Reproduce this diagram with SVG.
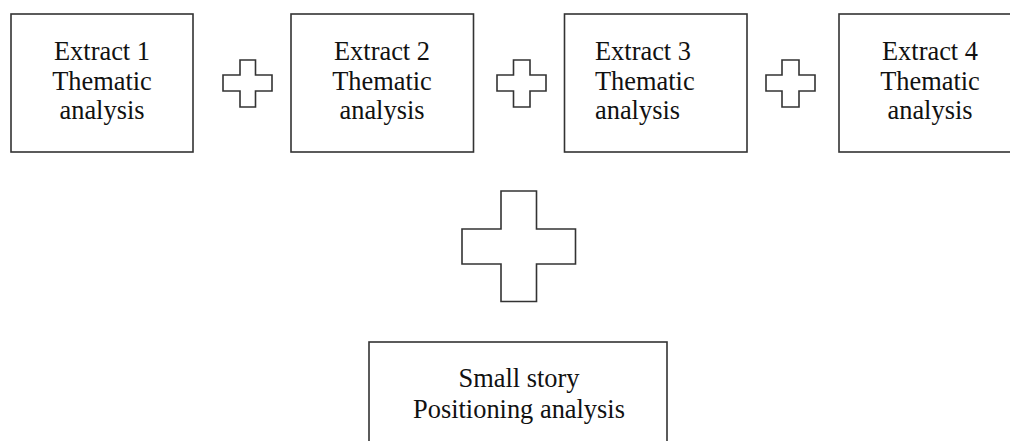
<svg xmlns="http://www.w3.org/2000/svg" width="1010" height="441" viewBox="0 0 1010 441">
<style>
.box{fill:#fff;stroke:#333;stroke-width:1.6}
.plus{fill:#fff;stroke:#333;stroke-width:1.6;stroke-linejoin:miter}
.t{font-family:"Liberation Serif","Times New Roman",serif;font-size:26.4px;fill:#111;text-anchor:middle}
.l{text-anchor:start}
</style>
<rect width="1010" height="441" fill="#fff"/>
<g id="extract1"><rect class="box" x="11" y="14" width="182" height="138"/>
<text class="t"><tspan x="102" y="60">Extract 1</tspan><tspan x="102" y="89.5">Thematic</tspan><tspan x="102" y="119">analysis</tspan></text></g>
<g id="extract2"><rect class="box" x="291" y="14" width="182.5" height="138"/>
<text class="t"><tspan x="382" y="60">Extract 2</tspan><tspan x="382" y="89.5">Thematic</tspan><tspan x="382" y="119">analysis</tspan></text></g>
<g id="extract3"><rect class="box" x="564.5" y="14" width="182.5" height="138"/>
<text class="t l"><tspan x="595" y="60">Extract 3</tspan><tspan x="595" y="89.5">Thematic</tspan><tspan x="595" y="119">analysis</tspan></text></g>
<g id="extract4"><rect class="box" x="839" y="14" width="182" height="138"/>
<text class="t"><tspan x="930" y="60">Extract 4</tspan><tspan x="930" y="89.5">Thematic</tspan><tspan x="930" y="119">analysis</tspan></text></g>
<g id="story"><rect class="box" x="369" y="342" width="298" height="110"/>
<text class="t"><tspan x="519" y="387">Small story</tspan><tspan x="519" y="418">Positioning analysis</tspan></text></g>
<g id="connectors">
<path class="plus" d="M240,60 H255.5 V75 H272 V91 H255.5 V107 H240 V91 H223 V75 H240 Z"/>
<path class="plus" d="M513.5,60 H530 V75 H546 V91 H530 V107 H513.5 V91 H497 V75 H513.5 Z"/>
<path class="plus" d="M782,60 H799 V75 H815 V91 H799 V107 H782 V91 H766 V75 H782 Z"/>
<path class="plus" d="M501,191 H536.5 V229 H575.5 V264 H536.5 V301.5 H501 V264 H462 V229 H501 Z"/>
</g>
</svg>
